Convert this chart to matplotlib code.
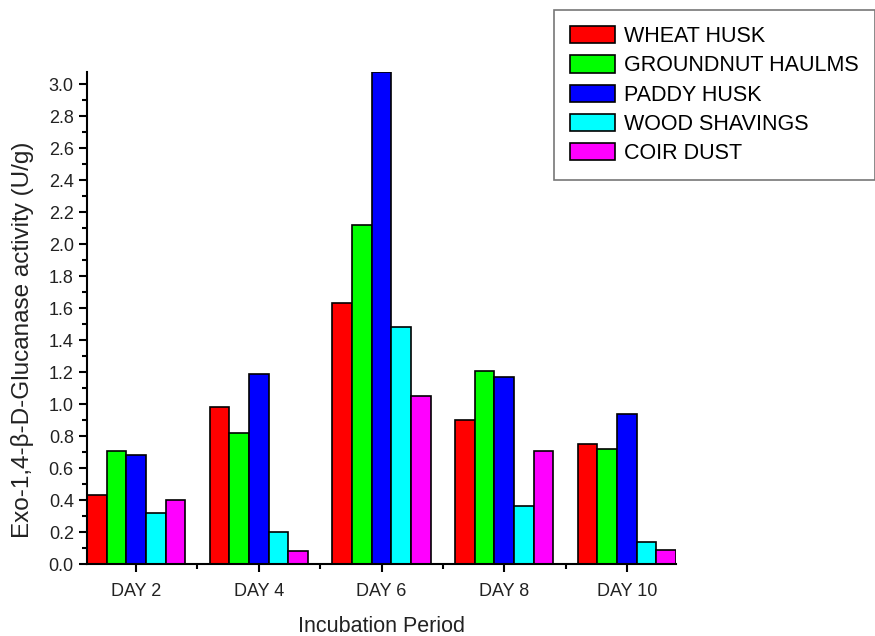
import numpy as np
import matplotlib
matplotlib.use('Agg')
import matplotlib.pyplot as plt
from matplotlib.ticker import MultipleLocator, FixedLocator

plt.rcParams['font.family'] = ['Liberation Sans', 'DejaVu Sans']

# datos
dias = ['DAY 2', 'DAY 4', 'DAY 6', 'DAY 8', 'DAY 10']
series = ['WHEAT HUSK', 'GROUNDNUT HAULMS', 'PADDY HUSK', 'WOOD SHAVINGS', 'COIR DUST']
wheat_husk = [0.43, 0.98, 1.63, 0.90, 0.75]
groundnut_haulms = [0.71, 0.82, 2.12, 1.21, 0.72]
paddy_husk = [0.68, 1.19, 3.08, 1.17, 0.94]
wood_shavings = [0.32, 0.20, 1.48, 0.36, 0.14]
coir_dust = [0.40, 0.08, 1.05, 0.71, 0.09]
colores = ['#ff0000', '#00ff00', '#0000ff', '#00ffff', '#ff00ff']

valores = [wheat_husk, groundnut_haulms, paddy_husk, wood_shavings, coir_dust]

fig = plt.figure(figsize=(8.75, 6.36), dpi=100)
ax = fig.add_axes([0.0994, 0.1132, 0.6732, 0.7741])

x = np.arange(len(dias))
ancho = 0.16
for i, (nombre, v, c) in enumerate(zip(series, valores, colores)):
    ax.bar(x + (i - 2) * ancho, v, ancho, color=c, edgecolor='black',
           linewidth=1.2, label=nombre)

ax.set_xlim(-0.4, len(dias) - 0.6)
ax.set_ylim(0, 3.08)

ax.set_xticks(x)
ax.set_xticklabels(dias)
ax.xaxis.set_minor_locator(FixedLocator(x[:-1] + 0.5))
ax.yaxis.set_major_locator(MultipleLocator(0.2))
ax.yaxis.set_minor_locator(MultipleLocator(0.1))
ax.yaxis.set_major_formatter(matplotlib.ticker.FormatStrFormatter('%.1f'))

ax.tick_params(which='major', direction='out', length=6, width=1.5,
               labelsize=13, colors='black', labelcolor='#222222')
ax.tick_params(which='minor', direction='out', length=3.5, width=1.5)
ax.tick_params(axis='x', which='major', pad=8)

for s in ['top', 'right']:
    ax.spines[s].set_visible(False)
for s in ['left', 'bottom']:
    ax.spines[s].set_linewidth(1.5)

ax.set_xlabel('Incubation Period', fontsize=15.5, labelpad=11, color='#222222')
ax.set_ylabel('Exo-1,4-β-D-Glucanase activity (U/g)', fontsize=17.5,
              color='#222222')
ax.yaxis.set_label_coords(-0.09, 0.455)

leg = fig.legend(loc='upper left', bbox_to_anchor=(554 / 875, 1 - 10 / 636),
                 borderaxespad=0, fontsize=15.5, frameon=True, fancybox=False,
                 handlelength=2.1, handleheight=0.85, labelspacing=0.38,
                 handletextpad=0.4, borderpad=0.75)
leg.get_frame().set_edgecolor('#555555')
leg.get_frame().set_linewidth(1.2)

fig.savefig('out.png', dpi=100)
